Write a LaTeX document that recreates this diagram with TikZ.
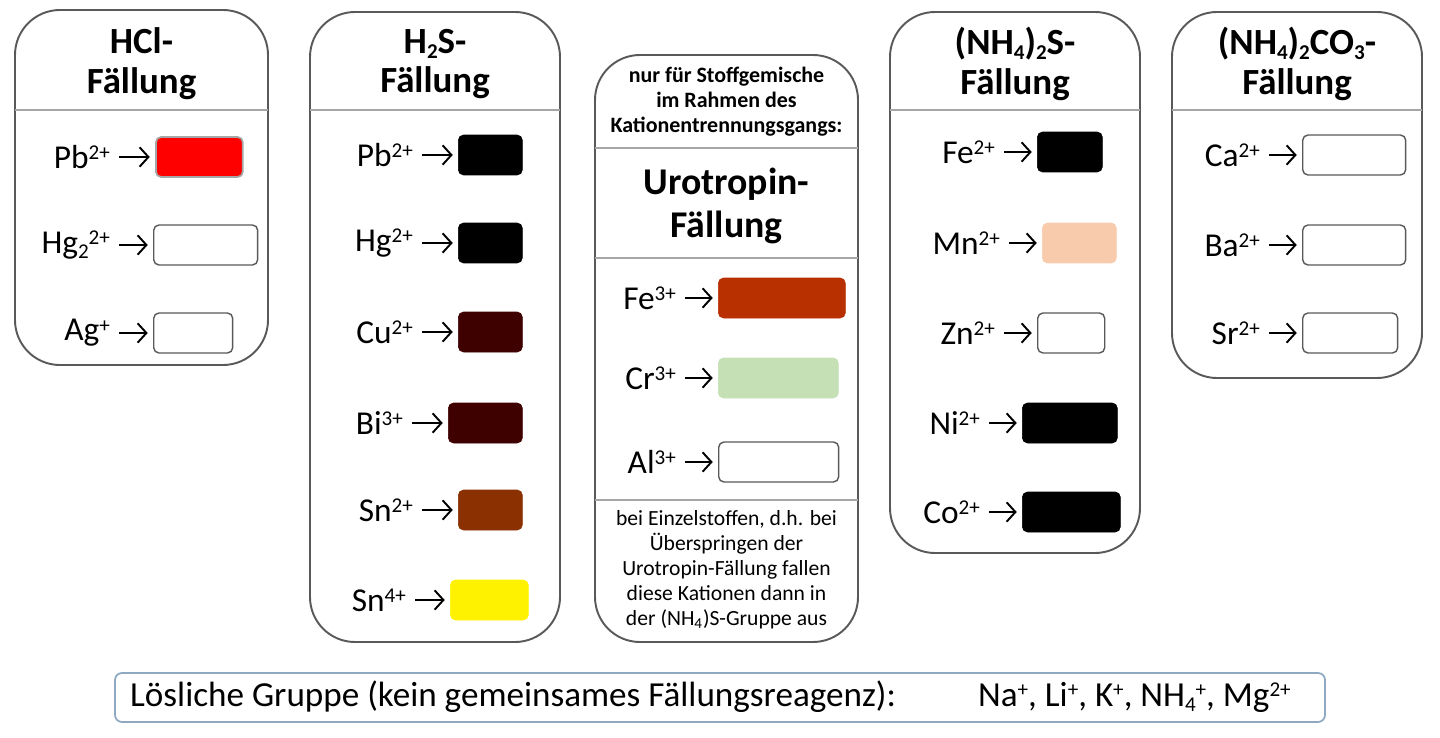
\documentclass[tikz,border=0pt]{standalone}
\usepackage{fontspec}
\setmainfont{Carlito}
\usetikzlibrary{positioning, arrows.meta}
\definecolor{rahmen}{HTML}{595959}
\definecolor{trenn}{HTML}{A6A6A6}
\definecolor{rotbraun}{HTML}{B83000}
\definecolor{dunkelbraun}{HTML}{3F0000}
\definecolor{braun}{HTML}{8B3000}
\definecolor{hellgruen}{HTML}{C5E0B4}
\definecolor{lachs}{HTML}{F8CBAD}
\definecolor{blaugrau}{HTML}{8EA9C1}
\newcommand\ladung[1]{\raisebox{0.55ex}{\fontsize{12}{12}\selectfont #1}}
\newcommand\tief[1]{\raisebox{-0.3ex}{\fontsize{12}{12}\selectfont #1}}
\tikzset{
	panel/.style = {draw=rahmen, line width=1.1pt, rounded corners=0.9cm},
	trennlinie/.style = {draw=trenn, line width=0.8pt},
	titel/.style = {align=center, font=\fontsize{21}{22.7}\selectfont\bfseries},
	ion/.style = {anchor=east, inner sep=1pt, font=\fontsize{19}{22}\selectfont},
	farbe/.style = {anchor=west, minimum height=0.8cm, rounded corners=3pt, draw=#1, fill=#1},
	leer/.style = {anchor=west, minimum height=0.8cm, rounded corners=3pt, draw=rahmen, line width=0.8pt, fill=white},
	pfeil/.style = {-{Straight Barb[length=5pt,width=11pt]}, line width=1.1pt, shorten <=4pt, shorten >=3pt},
	klein/.style = {align=center, font=\fontsize{12.3}{14.2}\selectfont}
}
\begin{document}
\begin{tikzpicture}[x=0.02cm, y=-0.02cm]
	\useasboundingbox (0,0) rectangle (1440,737);

	% HCl
	\draw[panel] (15,10) rectangle (268,365);
	\draw[trennlinie] (15,110) -- (268,110);
	\node[titel] (t1) at (141.5,64) {HCl-\\Fällung};
	\node[ion] (pb1) at (112,157) {Pb\ladung{2+}};
	\node[farbe=red, draw=trenn, line width=1pt, minimum width=1.74cm] (pb1f) at (155,157) {};
	\node[ion] (hg1) at (112,245) {Hg\tief{2}\ladung{2+}};
	\node[leer, minimum width=2.08cm] (hg1f) at (153,245) {};
	\node[ion] (ag1) at (112,333) {Ag\ladung{+}};
	\node[leer, minimum width=1.58cm] (ag1f) at (153,333) {};
	\draw[pfeil] (pb1) -- (pb1f);
	\draw[pfeil] (hg1) -- (hg1f);
	\draw[pfeil] (ag1) -- (ag1f);

	% H2S
	\draw[panel] (310,12) rectangle (560,642);
	\draw[trennlinie] (310,110) -- (560,110);
	\node[titel] (t2) at (435,64) {H\tief{2}S-\\Fällung};
	\node[ion] (pb2) at (415,155) {Pb\ladung{2+}};
	\node[farbe=black, minimum width=1.28cm] (pb2f) at (458,155) {};
	\node[ion] (hg2) at (415,243) {Hg\ladung{2+}};
	\node[farbe=black, minimum width=1.28cm] (hg2f) at (458,243) {};
	\node[ion] (cu2) at (415,332) {Cu\ladung{2+}};
	\node[farbe=dunkelbraun, minimum width=1.28cm] (cu2f) at (458,332) {};
	\node[ion] (bi2) at (405,423) {Bi\ladung{3+}};
	\node[farbe=dunkelbraun, minimum width=1.48cm] (bi2f) at (448,423) {};
	\node[ion] (sn2) at (415,510) {Sn\ladung{2+}};
	\node[farbe=braun, minimum width=1.28cm] (sn2f) at (458,510) {};
	\node[ion] (sn4) at (408,600) {Sn\ladung{4+}};
	\node[farbe=yellow, minimum width=1.56cm] (sn4f) at (450,600) {};
	\draw[pfeil] (pb2) -- (pb2f);
	\draw[pfeil] (hg2) -- (hg2f);
	\draw[pfeil] (cu2) -- (cu2f);
	\draw[pfeil] (bi2) -- (bi2f);
	\draw[pfeil] (sn2) -- (sn2f);
	\draw[pfeil] (sn4) -- (sn4f);

	% Urotropin
	\draw[panel] (595,55) rectangle (858,642);
	\draw[trennlinie] (595,148) -- (858,148);
	\draw[trennlinie] (595,258) -- (858,258);
	\draw[trennlinie] (595,500) -- (858,500);
	\node[klein, font=\fontsize{12.5}{14.2}\selectfont\bfseries] (hinweis) at (726.5,102) {nur für Stoffgemische\\im Rahmen des\\Kationentrennungsgangs:};
	\node[titel, font=\fontsize{21.5}{24.4}\selectfont\bfseries] (t3) at (726.5,206) {Urotropin-\\Fällung};
	\node[ion] (fe3) at (678,298) {Fe\ladung{3+}};
	\node[farbe=rotbraun, minimum width=2.54cm] (fe3f) at (718,298) {};
	\node[ion] (cr3) at (678,378) {Cr\ladung{3+}};
	\node[farbe=hellgruen, minimum width=2.4cm] (cr3f) at (718,378) {};
	\node[ion] (al3) at (678,462) {Al\ladung{3+}};
	\node[leer, minimum width=2.4cm] (al3f) at (718,462) {};
	\draw[pfeil] (fe3) -- (fe3f);
	\draw[pfeil] (cr3) -- (cr3f);
	\draw[pfeil] (al3) -- (al3f);
	\node[klein] (einzel) at (726.5,570) {bei Einzelstoffen, d.h. bei\\Überspringen der\\Urotropin-Fällung fallen\\diese Kationen dann in\\der (NH\textsubscript{4})S-Gruppe aus};

	% (NH4)2S
	\draw[panel] (890,12) rectangle (1140,553);
	\draw[trennlinie] (890,110) -- (1140,110);
	\node[titel] (t4) at (1015,64) {(NH\tief{4})\tief{2}S-\\Fällung};
	\node[ion] (fe2) at (997,152) {Fe\ladung{2+}};
	\node[farbe=black, minimum width=1.3cm] (fe2f) at (1037,152) {};
	\node[ion] (mn2) at (1002,243) {Mn\ladung{2+}};
	\node[farbe=lachs, minimum width=1.48cm] (mn2f) at (1042,243) {};
	\node[ion] (zn2) at (997,333) {Zn\ladung{2+}};
	\node[leer, minimum width=1.34cm] (zn2f) at (1037,333) {};
	\node[ion] (ni2) at (982,423) {Ni\ladung{2+}};
	\node[farbe=black, minimum width=1.9cm] (ni2f) at (1022,423) {};
	\node[ion] (co2) at (982,512) {Co\ladung{2+}};
	\node[farbe=black, minimum width=1.96cm] (co2f) at (1022,512) {};
	\draw[pfeil] (fe2) -- (fe2f);
	\draw[pfeil] (mn2) -- (mn2f);
	\draw[pfeil] (zn2) -- (zn2f);
	\draw[pfeil] (ni2) -- (ni2f);
	\draw[pfeil] (co2) -- (co2f);

	% (NH4)2CO3
	\draw[panel] (1172,12) rectangle (1422,378);
	\draw[trennlinie] (1172,110) -- (1422,110);
	\node[titel] (t5) at (1297,64) {(NH\tief{4})\tief{2}CO\tief{3}-\\Fällung};
	\node[ion] (ca2) at (1262,155) {Ca\ladung{2+}};
	\node[leer, minimum width=2.06cm] (ca2f) at (1302,155) {};
	\node[ion] (ba2) at (1262,245) {Ba\ladung{2+}};
	\node[leer, minimum width=2.06cm] (ba2f) at (1302,245) {};
	\node[ion] (sr2) at (1262,333) {Sr\ladung{2+}};
	\node[leer, minimum width=1.9cm] (sr2f) at (1302,333) {};
	\draw[pfeil] (ca2) -- (ca2f);
	\draw[pfeil] (ba2) -- (ba2f);
	\draw[pfeil] (sr2) -- (sr2f);

	% loesliche Gruppe
	\draw[draw=blaugrau, line width=1pt, rounded corners=4pt] (115,673) rectangle (1325,722);
	\node[anchor=west, font=\fontsize{20}{22}\selectfont] (loeslich) at (124,697) {Lösliche Gruppe (kein gemeinsames Fällungsreagenz):};
	\node[anchor=west, font=\fontsize{20}{22}\selectfont] (kationen) at (972,697) {Na\ladung{+}, Li\ladung{+}, K\ladung{+}, NH\tief{4}\ladung{+}, Mg\ladung{2+}};
\end{tikzpicture}
\end{document}
